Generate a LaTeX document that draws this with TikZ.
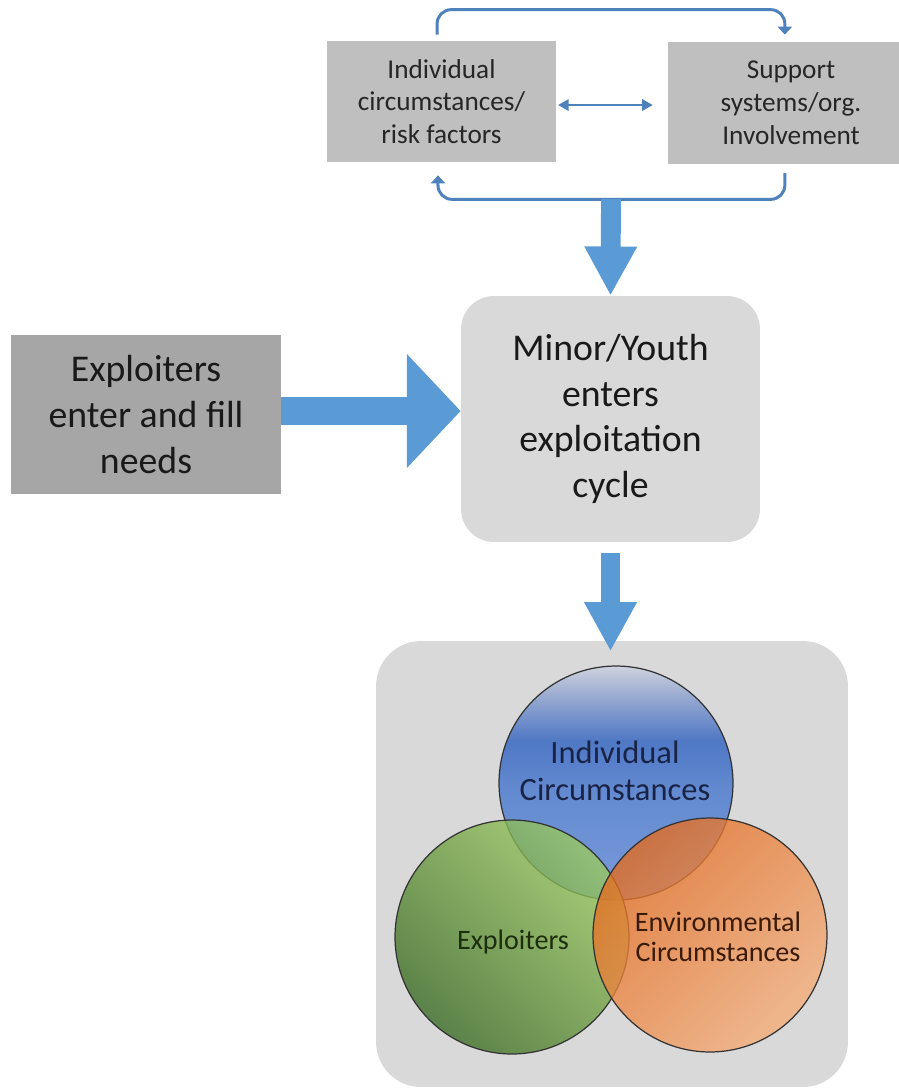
\documentclass[tikz,border=0pt]{standalone}
\usepackage{fontspec}
\setmainfont{Carlito}
\usetikzlibrary{arrows.meta,positioning}

\definecolor{arrowblue}{HTML}{5B9BD5}
\definecolor{linkblue}{HTML}{4F81BD}
\definecolor{topgray}{HTML}{BFBFBF}
\definecolor{darkgray}{HTML}{A6A6A6}
\definecolor{softgray}{HTML}{D9D9D9}
\definecolor{indT}{HTML}{CDD2DE}
\definecolor{indU}{HTML}{8FA3CF}
\definecolor{indD}{HTML}{4470C4}
\definecolor{indM}{HTML}{5A84D0}
\definecolor{indB}{HTML}{7196DA}
\pgfdeclareverticalshading{indivfill}{100bp}{color(0bp)=(indB); color(25bp)=(indB);
  color(48bp)=(indM); color(59bp)=(indD); color(68bp)=(indU); color(75bp)=(indT); color(100bp)=(indT)}

\begin{document}
\begin{tikzpicture}[x=0.02cm,y=-0.02cm,
    box/.style={rectangle, inner sep=0pt, align=center},
    topbox/.style={box, fill=topgray, minimum width=4.58cm, minimum height=2.42cm,
      text=black!85, font=\fontsize{15.5}{18.7}\selectfont},
    bigbox/.style={box, minimum height=3.18cm, text=black!90, font=\fontsize{21.5}{26}\selectfont},
    feedback/.style={linkblue, line width=1.7pt, rounded corners=8pt,
      -{Triangle[length=4.5pt,width=8pt]}},
    bigarrow/.style={arrowblue, line width=11.3pt, -{Triangle[length=28pt,width=28pt]}},
    ring/.style={circle, draw=black!80, line width=0.7pt, minimum size=4.68cm, inner sep=0pt},
    venntext/.style={align=center, font=\fontsize{16}{17}\selectfont}]
  \useasboundingbox (0,0) rectangle (899,1090);

  % top cycle
  \node[topbox] (risk) at (441.5,101.5) {Individual\\circumstances/\\risk factors};
  \node[topbox, minimum width=4.92cm, minimum height=2.44cm] (support) at (791,103)
    {Support\\systems/org.\\Involvement};
  \draw[linkblue, line width=1.1pt, {Triangle[length=6pt,width=6.5pt]}-{Triangle[length=6pt,width=6.5pt]},
    shorten <=1pt, shorten >=8.5pt] ([yshift=-2pt]risk.east) -- ([yshift=-2pt]risk.east -| support.west);
  \draw[feedback, shorten <=3.5pt, shorten >=4pt]
    ([xshift=-2.5pt]risk.north) -- ++(0,-31) -| ([xshift=-3.5pt]support.north);
  \draw[feedback, shorten <=5pt, shorten >=7.4pt]
    ([xshift=-3.5pt]support.south) -- ++(0,35) -| ([xshift=-2pt]risk.south);
  \coordinate (joint) at (611,199);

  % middle row
  \node[bigbox, fill=softgray, minimum width=5.98cm, minimum height=4.92cm,
    rounded corners=0.66cm] (minor) at (610.5,419) {Minor/Youth\\enters\\exploitation\\cycle};
  \node[bigbox, fill=darkgray, minimum width=5.4cm] (needs) at (146,414.5)
    {Exploiters\\enter and fill\\needs};
  \draw[bigarrow] (joint) -- (minor.north);
  \draw[arrowblue, line width=15.9pt, -{Triangle[length=30.6pt,width=63pt]}]
    ([yshift=2pt]needs.east) -- ([yshift=2pt]needs.east -| minor.west);

  % venn
  \node[box, fill=softgray, minimum width=9.44cm, minimum height=8.92cm,
    rounded corners=0.9cm] (venn) at (612,864) {};
  \node[ring, shade, shading=indivfill, fill opacity=0.92] (indiv) at (616,783) {};
  \node[ring, top color={rgb,255:red,156;green,203;blue,94}, middle color={rgb,255:red,94;green,158;blue,51},
    bottom color={rgb,255:red,56;green,106;blue,32}, shading angle=-45, fill opacity=0.78] (expl) at (512,937) {};
  \node[ring, top color={rgb,255:red,229;green,106;blue,28}, middle color={rgb,255:red,237;green,125;blue,49},
    bottom color={rgb,255:red,245;green,174;blue,122}, shading angle=45, fill opacity=0.78] (env) at (710,935) {};
  \node[venntext, font=\fontsize{18.5}{21}\selectfont, text={rgb,255:red,25;green,35;blue,70}]
    (indivlab) at (615,771) {Individual\\Circumstances};
  \node[venntext, text={rgb,255:red,28;green,46;blue,14}] (expllab) at (513,942) {Exploiters};
  \node[venntext, text={rgb,255:red,58;green,26;blue,8}] (envlab) at (718,937) {Environmental\\Circumstances};
  \draw[bigarrow, shorten <=6pt, shorten >=8pt] (minor.south) -- (minor.south |- indiv.north);
\end{tikzpicture}
\end{document}
